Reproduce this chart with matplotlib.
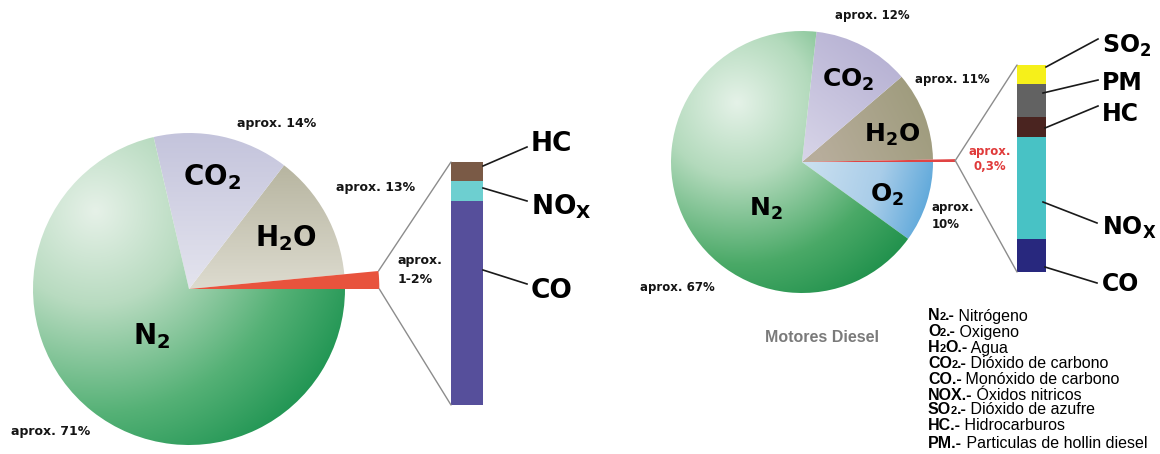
import numpy as np
import matplotlib
matplotlib.use("Agg")
import matplotlib.pyplot as plt
from matplotlib.patches import ConnectionPatch
from matplotlib.colors import to_rgb

plt.rcParams['mathtext.fontset'] = 'custom'
for k in ['rm', 'it', 'bf', 'sf', 'tt']:
    plt.rcParams['mathtext.' + k] = 'DejaVu Sans:bold'
plt.rcParams['mathtext.default'] = 'bf'

W, H, DPI = 1160, 454, 100

# ---------------- data ----------------
# Gasoline engine (left): pie counter-clockwise from 0 deg
gas_names_L = ["Otros", "H2O", "CO2", "N2"]
gas_values_L = [1.5, 13, 14, 71]
bar_names_L = ["CO", "NOx", "HC"]          # bottom -> top
bar_values_L = [84, 8, 8]

# Diesel engine (right)
gas_names_R = ["O2", "Otros", "H2O", "CO2", "N2"]
gas_values_R = [10, 0.3, 11, 12, 67]
bar_names_R = ["CO", "NOx", "HC", "PM", "SO2"]   # bottom -> top
bar_values_R = [16, 49, 10, 16, 9]

pct_L = {"N2": "aprox. 71%", "CO2": "aprox. 14%", "H2O": "aprox. 13%", "Otros": "aprox.\n1-2%"}
pct_R = {"N2": "aprox. 67%", "CO2": "aprox. 12%", "H2O": "aprox. 11%", "O2": "aprox.\n10%", "Otros": "aprox.\n0,3%"}

math_names = {"N2": r"$N_2$", "CO2": r"$CO_2$", "H2O": r"$H_2O$", "O2": r"$O_2$",
              "NOx": r"$NO_X$", "SO2": r"$SO_2$", "CO": "CO", "HC": "HC", "PM": "PM"}

legend_entries = [
    [("N", "b"), ("2", "s"), (".-", "b"), (" Nitrógeno", "n")],
    [("O", "b"), ("2", "s"), (".-", "b"), (" Oxigeno", "n")],
    [("H", "b"), ("2", "s"), ("O.-", "b"), (" Agua", "n")],
    [("CO", "b"), ("2", "s"), (".-", "b"), (" Dióxido de carbono", "n")],
    [("CO.-", "b"), (" Monóxido de carbono", "n")],
    [("NOX.-", "b"), (" Óxidos nitricos", "n")],
    [("SO", "b"), ("2", "s"), (".-", "b"), (" Dióxido de azufre", "n")],
    [("HC.-", "b"), (" Hidrocarburos", "n")],
    [("PM.-", "b"), (" Particulas de hollin diesel", "n")],
]
diesel_title = "Motores Diesel"

# ---------------- styles ----------------
fill_L = {
    "Otros": ("solid", "#e8533d"),
    "H2O": ("linear", (0, 0.9), (0, -1), 0.9, [(0, "#b2b09a"), (1, "#dddbcf")]),
    "CO2": ("linear", (0, 1.0), (0, -1), 1.0, [(0, "#c4c4dc"), (1, "#e4e4ee")]),
    "N2": ("radial", (-0.6, 0.5), 2.0, [(0, "#e6f1e8"), (0.3, "#b8dbc0"), (0.65, "#55b176"), (1, "#0b8a45")]),
}
fill_R = {
    "O2": ("linear", (0, 0), (1, -0.3), 1.0, [(0, "#cde1f0"), (0.6, "#a9cde9"), (1, "#62aadb")]),
    "Otros": ("solid", "#e04444"),
    "H2O": ("linear", (0.15, 0.05), (0.9, 0.45), 0.9, [(0, "#b7ad9b"), (1, "#9e9b7c")]),
    "CO2": ("linear", (0.05, 0.05), (0.6, 0.8), 1.0, [(0, "#d6d3e7"), (1, "#b6b1d3")]),
    "N2": ("radial", (-0.5, 0.45), 1.9, [(0, "#e5f2e8"), (0.3, "#b3dabc"), (0.65, "#4aa967"), (1, "#0d8640")]),
}
bar_colors_L = {"CO": "#564f9b", "NOx": "#6dcfd0", "HC": "#7a5a46"}
bar_colors_R = {"CO": "#28287e", "NOx": "#48c2c5", "HC": "#4a2420", "PM": "#626262", "SO2": "#f6f01a"}

fig = plt.figure(figsize=(W / DPI, H / DPI), dpi=DPI)
fig.patch.set_facecolor("white")


def px_axes(x0, y0, w, h):
    return fig.add_axes([x0 / W, (H - y0 - h) / H, w / W, h / H])


def gradient(spec, n=400, L=1.3):
    xs = np.linspace(-L, L, n)
    X, Y = np.meshgrid(xs, xs)
    if spec[0] == "radial":
        (px, py), dmax, stops = spec[1], spec[2], spec[3]
        t = np.hypot(X - px, Y - py) / dmax
    else:
        (x0, y0), (ux, uy), length, stops = spec[1], spec[2], spec[3], spec[4]
        nrm = np.hypot(ux, uy)
        t = ((X - x0) * ux + (Y - y0) * uy) / nrm / length
    t = np.clip(t, 0, 1)
    pos = [s[0] for s in stops]
    cols = np.array([to_rgb(s[1]) for s in stops])
    img = np.stack([np.interp(t, pos, cols[:, i]) for i in range(3)], axis=-1)
    return img


def make_pie(cx, cy, r, names, values, fills, startangle, red_ext, L=1.3):
    ax = px_axes(cx - L * r, cy - L * r, 2 * L * r, 2 * L * r)
    wedges, _ = ax.pie(values, startangle=startangle, counterclock=True, radius=1,
                       wedgeprops=dict(linewidth=0))
    for name, w in zip(names, wedges):
        spec = fills[name]
        if spec[0] == "solid":
            w.set_facecolor(spec[1])
            w.set_radius(red_ext)
        else:
            w.set_facecolor("none")
            im = ax.imshow(gradient(spec, L=L), extent=[-L, L, -L, L], origin="lower",
                           interpolation="bilinear", zorder=0.5)
            im.set_clip_path(w)
    ax.set_xlim(-L, L)
    ax.set_ylim(-L, L)
    ax.set_aspect("equal")
    ax.axis("off")
    return ax, dict(zip(names, wedges))


def make_bar(x0, y0, w, h, names, values, colors):
    ax = px_axes(x0, y0, w, h)
    bottom = 0
    for n, v in zip(names, values):
        ax.bar(0, v, width=1, bottom=bottom, color=colors[n], linewidth=0)
        bottom += v
    ax.set_xlim(-0.5, 0.5)
    ax.set_ylim(0, bottom)
    ax.axis("off")
    return ax, bottom


# left chart
axL, wL = make_pie(189, 289, 156, gas_names_L, gas_values_L, fill_L, 0, 1.22)
barL, totL = make_bar(451, 162, 32, 243, bar_names_L, bar_values_L, bar_colors_L)
# right chart
startR = -360 * gas_values_R[0] / sum(gas_values_R)
axR, wR = make_pie(802, 162, 131, gas_names_R, gas_values_R, fill_R, startR, 1.17)
barR, totR = make_bar(1017, 65, 29, 207, bar_names_R, bar_values_R, bar_colors_R)


def zoom_lines(pax, wedge, bax, total, ext):
    t1, t2 = np.deg2rad(wedge.theta1), np.deg2rad(wedge.theta2)
    if abs(t2 - t1) < np.deg2rad(2):
        tm = (t1 + t2) / 2
        t1 = t2 = tm
    for th, yb in [(t2, total), (t1, 0)]:
        con = ConnectionPatch(xyA=(ext * np.cos(th), ext * np.sin(th)), coordsA=pax.transData,
                              xyB=(-0.5, yb), coordsB=bax.transData,
                              color="#8c8c8c", lw=1.0)
        fig.add_artist(con)


zoom_lines(axL, wL["Otros"], barL, totL, 1.22)
zoom_lines(axR, wR["Otros"], barR, totR, 1.17)

# overlay for text (pixel coordinates, y downward)
ov = fig.add_axes([0, 0, 1, 1])
ov.set_xlim(0, W)
ov.set_ylim(H, 0)
ov.axis("off")
ov.patch.set_visible(False)

BIG = dict(family="DejaVu Sans", fontweight="bold", color="black")


def cap_text(x, yc, s, size, ha="center", **kw):
    base = yc + 0.729 / 2 * size * DPI / 72
    ov.text(x, base, s, fontsize=size, ha=ha, va="baseline", **BIG, **kw)


def small(x, y, s, size, ha="center", color="#141414", ls=1.35):
    ov.text(x, y, s, fontsize=size, ha=ha, va="center", family="DejaVu Sans",
            fontweight="bold", color=color, linespacing=ls)


# left pie labels
cap_text(212, 175, math_names["CO2"], 20)
cap_text(286, 236, math_names["H2O"], 20)
cap_text(152, 334, math_names["N2"], 20)
small(277, 123, pct_L["CO2"], 9)
small(376, 188, pct_L["H2O"], 9)
small(398, 270, pct_L["Otros"], 9, ha="left", ls=1.6)
small(51, 432, pct_L["N2"], 9)

# left bar labels
cap_text(531, 141, math_names["HC"], 19, ha="left")
cap_text(531, 205, math_names["NOx"], 19, ha="left")
cap_text(531, 288, math_names["CO"], 19, ha="left")
for (x0, y0), (x1, y1) in [((483, 166), (527, 147)), ((483, 188), (527, 201)), ((483, 270), (527, 284))]:
    ov.plot([x0, x1], [y0, y1], color="#1a1a1a", lw=1.2)

# right pie labels
cap_text(848, 78, math_names["CO2"], 18)
cap_text(892, 133, math_names["H2O"], 18)
cap_text(887, 193, math_names["O2"], 18)
cap_text(766, 207, math_names["N2"], 18)
small(872, 15, pct_R["CO2"], 8.5)
small(952, 79, pct_R["H2O"], 8.5)
small(932, 216, pct_R["O2"], 8.5, ha="left")
small(990, 159, pct_R["Otros"], 8.5, color="#e03a3a", ls=1.1)
small(677, 288, pct_R["N2"], 8.5)

# right bar labels
for name, yc in [("SO2", 44), ("PM", 81), ("HC", 112), ("NOx", 226), ("CO", 282)]:
    cap_text(1102, yc, math_names[name], 17, ha="left")
for (x0, y0), (x1, y1) in [((1046, 67), (1098, 39)), ((1043, 93), (1098, 80)),
                           ((1045, 128), (1098, 106)), ((1043, 202), (1097, 223)),
                           ((1045, 267), (1097, 283))]:
    ov.plot([x0, x1], [y0, y1], color="#1a1a1a", lw=1.2)

ov.text(822, 338, diesel_title, fontsize=11.5, fontweight="bold", family="Liberation Sans",
        color="#7a7a7a", ha="center", va="center")

# legend with small digits
renderer = fig.canvas.get_renderer()
leg_y = [315, 331, 347, 362, 378, 394, 409, 425, 443]
for entry, yc in zip(legend_entries, leg_y):
    x = 928
    base = yc + 5.5
    for s, kind in entry:
        size = 8 if kind == "s" else 11.5
        weight = "normal" if kind == "n" else "bold"
        t = ov.text(x, base, s, fontsize=size, fontweight=weight, family="Liberation Sans",
                    color="black", ha="left", va="baseline")
        x += t.get_window_extent(renderer).width - 0.5

fig.savefig("out.png", dpi=DPI, facecolor="white")
